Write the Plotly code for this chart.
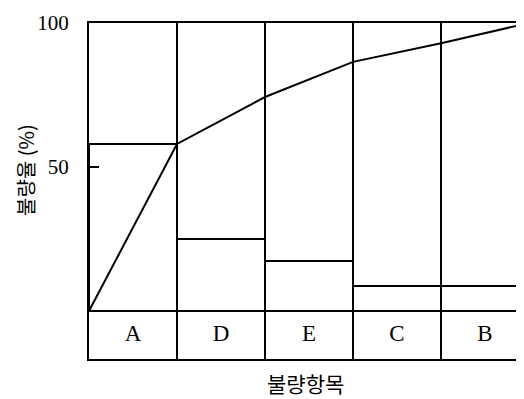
import plotly.graph_objects as go

categories = ["A", "D", "E", "C", "B"]
bar_values = [58, 25, 17.4, 8.7, 8.7]
cum_x = [0, 1, 2, 3, 4, 5]
cum_values = [0, 58, 74.3, 86.5, 93, 100]
y_tick_vals = [50, 100]
y_tick_text = ["50", "100"]

serif = "Liberation Serif, DejaVu Serif, serif"
cjk = "Noto Sans CJK KR, sans-serif"

fig = go.Figure()

fig.add_trace(go.Bar(
    x=[i + 0.5 for i in range(len(categories))],
    y=bar_values,
    width=1,
    marker=dict(color="rgba(255,255,255,0)", line=dict(color="black", width=2)),
    showlegend=False,
    hoverinfo="skip",
))

fig.add_trace(go.Scatter(
    x=cum_x, y=cum_values, mode="lines",
    line=dict(color="black", width=2),
    showlegend=False,
))

label_y = -8.3
fig.add_trace(go.Scatter(
    x=[i + 0.5 for i in range(len(categories))],
    y=[label_y] * len(categories),
    mode="text", text=categories,
    textfont=dict(family=serif, size=23, color="black"),
    showlegend=False, cliponaxis=False,
))

fig.update_layout(
    width=516, height=391,
    margin=dict(l=81, r=2, t=15, b=40),
    paper_bgcolor="white", plot_bgcolor="white",
    bargap=0,
    xaxis=dict(
        range=[0, 4.92],
        tickvals=[0, 1, 2, 3, 4, 5],
        showticklabels=False,
        showgrid=True, gridcolor="black", gridwidth=2,
        showline=True, linecolor="black", linewidth=2, mirror=True,
        zeroline=False, ticks="", automargin=False,
    ),
    yaxis=dict(
        range=[-16.67, 100],
        tickvals=y_tick_vals, ticktext=y_tick_text,
        ticks="inside", ticklen=10, tickwidth=2, tickcolor="black",
        tickfont=dict(family=serif, size=21, color="black"),
        ticklabelstandoff=14,
        showgrid=False,
        showline=True, linecolor="black", linewidth=2,
        zeroline=True, zerolinecolor="black", zerolinewidth=2,
        automargin=False,
    ),
    annotations=[
        dict(text="불량율 (%)", xref="paper", yref="paper",
             x=-0.148, y=0.5625, showarrow=False, textangle=-90,
             font=dict(family=cjk, size=20, color="black"),
             xanchor="center", yanchor="middle"),
        dict(text="불량항목", xref="paper", yref="paper",
             x=0.5, y=-0.072, showarrow=False,
             font=dict(family=cjk, size=21, color="black"),
             xanchor="center", yanchor="middle"),
    ],
)

fig.write_html("out.html")
